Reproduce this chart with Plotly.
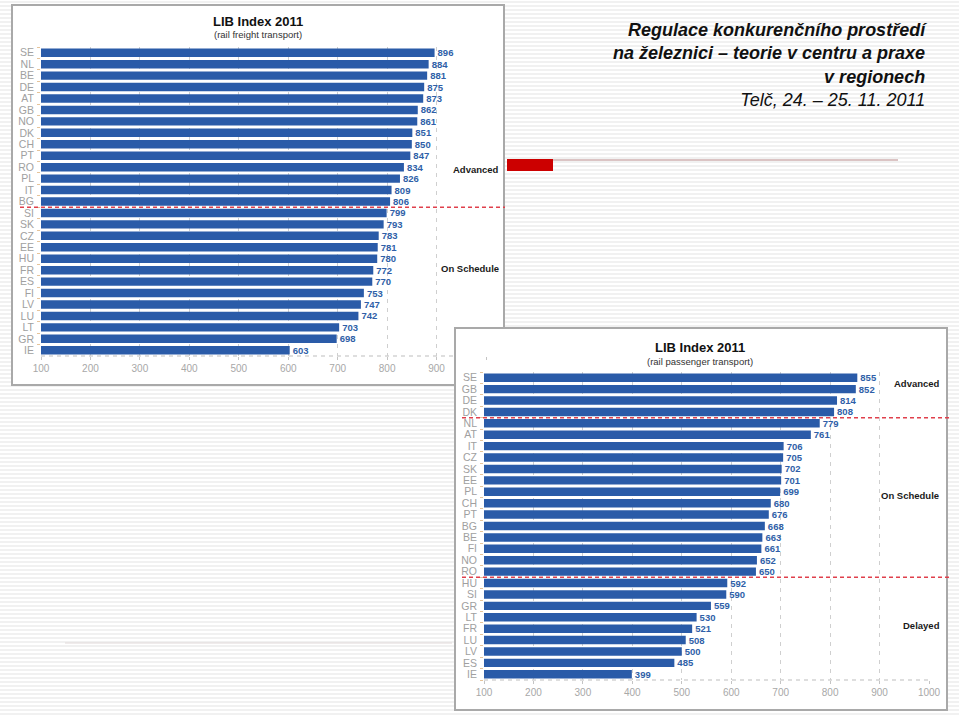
import plotly.graph_objects as go

# ---------------- data ----------------
freight_countries = ["SE", "NL", "BE", "DE", "AT", "GB", "NO", "DK", "CH", "PT", "RO", "PL", "IT", "BG",
                     "SI", "SK", "CZ", "EE", "HU", "FR", "ES", "FI", "LV", "LU", "LT", "GR", "IE"]
freight_values = [896, 884, 881, 875, 873, 862, 861, 851, 850, 847, 834, 826, 809, 806,
                  799, 793, 783, 781, 780, 772, 770, 753, 747, 742, 703, 698, 603]

passenger_countries = ["SE", "GB", "DE", "DK", "NL", "AT", "IT", "CZ", "SK", "EE", "PL", "CH", "PT", "BG",
                       "BE", "FI", "NO", "RO", "HU", "SI", "GR", "LT", "FR", "LU", "LV", "ES", "IE"]
passenger_values = [855, 852, 814, 808, 779, 761, 706, 705, 702, 701, 699, 680, 676, 668,
                    663, 661, 652, 650, 592, 590, 559, 530, 521, 508, 500, 485, 399]

x_ticks = [100, 200, 300, 400, 500, 600, 700, 800, 900, 1000]
freight_ticktext = ["100", "200", "300", "400", "500", "600", "700", "800", "900", ""]
passenger_ticktext = ["100", "200", "300", "400", "500", "600", "700", "800", "900", "1000"]

# ---------------- helpers ----------------
W, H = 959, 717
def px(v):
    return v / W
def py(v):
    return 1 - v / H

BAR = "#2A5BA8"
FONT = "Liberation Sans, Arial, sans-serif"

fig = go.Figure()

fig.add_trace(go.Bar(
    x=freight_values, y=freight_countries, orientation="h",
    marker=dict(color=BAR, line=dict(width=0)),
    text=[str(v) for v in freight_values], textposition="outside", constraintext="none",
    textfont=dict(family=FONT, size=9.5, color="#2F5FA8", weight="bold"),
    cliponaxis=False, xaxis="x", yaxis="y", hoverinfo="x+y"))

fig.add_trace(go.Bar(
    x=passenger_values, y=passenger_countries, orientation="h",
    marker=dict(color=BAR, line=dict(width=0)),
    text=[str(v) for v in passenger_values], textposition="outside", constraintext="none",
    textfont=dict(family=FONT, size=9.5, color="#2F5FA8", weight="bold"),
    cliponaxis=False, xaxis="x2", yaxis="y2", hoverinfo="x+y"))

common_x = dict(range=[100, 1000], tickmode="array", tickvals=x_ticks, showgrid=True, gridcolor="#cfcfcf",
                griddash="4px,5px", gridwidth=1, zeroline=False, showline=False,
                ticks="outside", ticklen=3, tickcolor="#c4c4c4", automargin=False,
                tickfont=dict(family=FONT, size=10, color="#a8a8a8"), fixedrange=True)
common_y = dict(showgrid=False, zeroline=False, showline=False,
                ticks="outside", ticklen=3, tickcolor="#e6c49a", tickson="boundaries",
                tickfont=dict(family=FONT, size=10.5, color="#a0a0a0"), fixedrange=True,
                automargin=False, ticklabelstandoff=6)

shapes = []
# background stripes of the slide
for yy in range(2, H, 4):
    shapes.append(dict(type="line", xref="paper", yref="paper", x0=0, x1=1, y0=py(yy), y1=py(yy),
                       line=dict(color="#ededed", width=1.5), layer="below"))
# panels
shapes.append(dict(type="rect", xref="paper", yref="paper", x0=px(12), x1=px(504), y0=py(385), y1=py(5),
                   fillcolor="white", line=dict(color="#a9a9a9", width=2), layer="below"))
shapes.append(dict(type="rect", xref="paper", yref="paper", x0=px(455), x1=px(947), y0=py(710), y1=py(328),
                   fillcolor="white", line=dict(color="#a9a9a9", width=2), layer="below"))
# dashed bottom axis lines
shapes.append(dict(type="line", xref="x domain", yref="y domain", x0=0, x1=0.93, y0=0, y1=0,
                   line=dict(color="#bdbdbd", width=1.2, dash="4px,4px"), layer="below"))
shapes.append(dict(type="line", xref="x2 domain", yref="y2 domain", x0=0, x1=1, y0=0, y1=0,
                   line=dict(color="#bdbdbd", width=1.2, dash="4px,4px"), layer="below"))
# red threshold lines
RED = "#E0404C"
shapes.append(dict(type="line", xref="paper", yref="y", x0=px(20), x1=px(505), y0=13.5, y1=13.5,
                   line=dict(color=RED, width=1.5, dash="4px,3px")))
shapes.append(dict(type="line", xref="paper", yref="y2", x0=px(462), x1=px(950), y0=3.5, y1=3.5,
                   line=dict(color=RED, width=1.5, dash="4px,3px")))
shapes.append(dict(type="line", xref="paper", yref="y2", x0=px(462), x1=px(950), y0=17.5, y1=17.5,
                   line=dict(color=RED, width=1.5, dash="4px,3px")))
# slide decoration
shapes.append(dict(type="rect", xref="paper", yref="paper", x0=px(507), x1=px(553), y0=py(171), y1=py(159),
                   fillcolor="#CC0000", line=dict(width=0)))
shapes.append(dict(type="line", xref="paper", yref="paper", x0=px(553), x1=px(898), y0=py(160), y1=py(160),
                   line=dict(color="#b88a8a", width=1.2)))
shapes.append(dict(type="line", xref="paper", yref="paper", x0=px(65), x1=px(452), y0=py(643), y1=py(643),
                   line=dict(color="#e2dada", width=1.2), layer="below"))

annotations = [
    dict(text="<i><b>Regulace konkurenčního prostředí<br>na železnici – teorie v centru a praxe<br>v regionech</b><br>Telč, 24. – 25. 11. 2011</i>",
         xref="paper", yref="paper", x=px(929), y=py(18), xanchor="right", yanchor="top", align="right",
         showarrow=False, font=dict(family=FONT, size=18, color="#111111")),
    dict(text="<b>LIB Index 2011</b>", xref="paper", yref="paper", x=px(258), y=py(22),
         xanchor="center", yanchor="middle", showarrow=False, font=dict(family=FONT, size=13, color="#111")),
    dict(text="(rail freight transport)", xref="paper", yref="paper", x=px(258), y=py(35),
         xanchor="center", yanchor="middle", showarrow=False, font=dict(family=FONT, size=9.5, color="#333")),
    dict(text="<b>LIB Index 2011</b>", xref="paper", yref="paper", x=px(700), y=py(347),
         xanchor="center", yanchor="middle", showarrow=False, font=dict(family=FONT, size=13, color="#111")),
    dict(text="(rail passenger transport)", xref="paper", yref="paper", x=px(700), y=py(361),
         xanchor="center", yanchor="middle", showarrow=False, font=dict(family=FONT, size=9.5, color="#333")),
]
for label, xx, yy in [("Advanced", 476, 169), ("On Schedule", 470, 268),
                      ("Advanced", 917, 384), ("On Schedule", 910, 495), ("Delayed", 921, 625)]:
    annotations.append(dict(text="<b>" + label + "</b>", xref="paper", yref="paper", x=px(xx), y=py(yy),
                            xanchor="center", yanchor="middle", showarrow=False,
                            font=dict(family=FONT, size=9.5, color="#1a1a1a")))

fig.update_layout(
    width=W, height=H, margin=dict(l=0, r=0, t=0, b=0, autoexpand=False),
    paper_bgcolor="white", plot_bgcolor="rgba(0,0,0,0)",
    showlegend=False, bargap=0.26,
    xaxis=dict(domain=[px(41), px(486)], anchor="y", ticktext=freight_ticktext, **common_x),
    yaxis=dict(domain=[py(356), py(47)], anchor="x", range=[len(freight_countries) - 0.5, -0.5],
               tickmode="array", tickvals=freight_countries, ticktext=freight_countries, **common_y),
    xaxis2=dict(domain=[px(484), px(929)], anchor="y2", ticktext=passenger_ticktext, **common_x),
    yaxis2=dict(domain=[py(680), py(372)], anchor="x2", range=[len(passenger_countries) - 0.5, -0.5],
                tickmode="array", tickvals=passenger_countries, ticktext=passenger_countries, **common_y),
    shapes=shapes, annotations=annotations,
    font=dict(family=FONT),
)

fig.write_html("out.html", config={"responsive": False, "displayModeBar": False},
               post_script="document.body.style.margin='0';document.body.style.overflow='hidden';")
